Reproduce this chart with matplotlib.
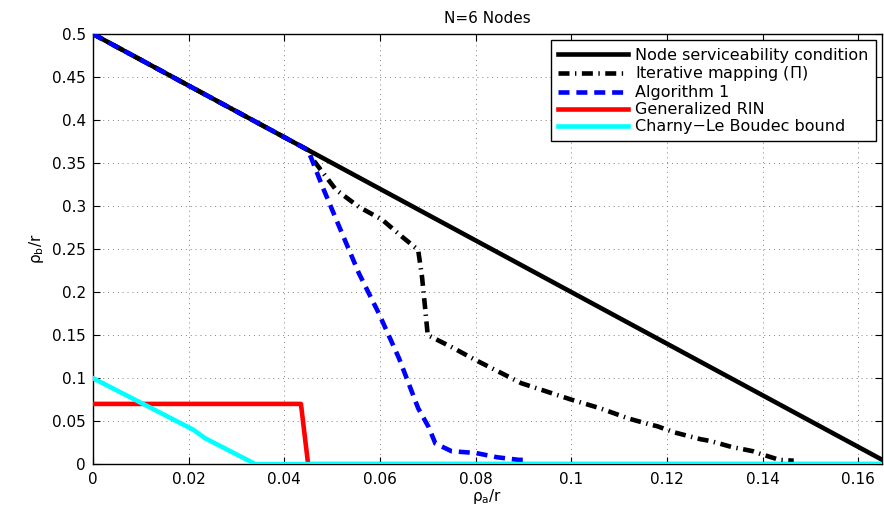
import matplotlib
matplotlib.use("Agg")
import matplotlib.pyplot as plt
import numpy as np

plt.rcParams["font.family"] = ["DejaVu Sans"]
plt.rcParams["mathtext.fontset"] = "dejavusans"

# node serviceability condition
node_x = [0.0, 0.165]
node_y = [0.5, 0.005]

# iterative mapping (Pi)
iter_x = [0.0, 0.045, 0.0456, 0.0508, 0.0556, 0.0605, 0.0647, 0.068, 0.0688, 0.0695,
          0.070, 0.075, 0.080, 0.0896, 0.100, 0.106, 0.112, 0.1165, 0.118, 0.1215,
          0.127, 0.129, 0.1335, 0.138, 0.1395, 0.1435, 0.1465]
iter_y = [0.5, 0.365, 0.357, 0.319, 0.299, 0.284, 0.264, 0.249, 0.218, 0.179,
          0.150, 0.136, 0.121, 0.094, 0.075, 0.065, 0.053, 0.046, 0.044, 0.037,
          0.029, 0.027, 0.020, 0.015, 0.012, 0.005, 0.004]

# algorithm 1
alg_x = [0.0, 0.045, 0.048, 0.0515, 0.0556, 0.0598, 0.064, 0.068, 0.0702, 0.0716,
         0.075, 0.080, 0.0845, 0.089, 0.090]
alg_y = [0.5, 0.365, 0.3225, 0.276, 0.222, 0.175, 0.123, 0.065, 0.043, 0.024,
         0.015, 0.013, 0.008, 0.005, 0.005]

# generalized RIN
rin_x = [0.0, 0.0435, 0.045, 0.165]
rin_y = [0.07, 0.07, 0.0, 0.0]

# Charny-Le Boudec bound
clb_x = [0.0, 0.021, 0.0235, 0.034, 0.165]
clb_y = [0.1, 0.04, 0.03, 0.0, 0.0]

xticks = np.arange(0, 0.161, 0.02)
xlabels = ["0", "0.02", "0.04", "0.06", "0.08", "0.1", "0.12", "0.14", "0.16"]
yticks = np.arange(0, 0.501, 0.05)
ylabels = ["0", "0.05", "0.1", "0.15", "0.2", "0.25", "0.3", "0.35", "0.4", "0.45", "0.5"]

fig = plt.figure(figsize=[8.84, 5.14], dpi=100)
ax = fig.add_axes([0.105, 0.097, 0.893, 0.837])

lw = 3.3
ax.plot(node_x, node_y, color="k", lw=lw, label="Node serviceability condition", zorder=3)
ax.plot(iter_x, iter_y, color="k", lw=lw, dashes=(2.4, 1.2, 0.3, 1.2),
        label=r"Iterative mapping ($\Pi$)", zorder=4)
ax.plot(alg_x, alg_y, color="#0000ff", lw=lw, dashes=(2.4, 1.5),
        label="Algorithm 1", zorder=5)
ax.plot(rin_x, rin_y, color="#ff0000", lw=lw, label="Generalized RIN", zorder=3)
ax.plot(clb_x, clb_y, color="#00ffff", lw=lw, label="Charny\u2212Le Boudec bound", zorder=6)

ax.set_xlim(0, 0.165)
ax.set_ylim(0, 0.5)
ax.set_xticks(xticks)
ax.set_xticklabels(xlabels)
ax.set_yticks(yticks)
ax.set_yticklabels(ylabels)
ax.tick_params(direction="in", top=True, right=True, labelsize=11, length=5, width=0.8)
ax.tick_params(axis="x", pad=6)
ax.tick_params(axis="y", pad=5)
ax.grid(True, linestyle=(0, (1, 4)), color="0.5", lw=0.7)

for s in ax.spines.values():
    s.set_linewidth(1.0)

ax.set_xlabel("\u03c1$_\\mathrm{a}$/r", fontsize=11, labelpad=0)
ax.set_ylabel("\u03c1$_\\mathrm{b}$/r", fontsize=11, labelpad=4)
ax.set_title("N=6 Nodes", fontsize=11, pad=8)

leg = ax.legend(loc="upper right", fontsize=11.5, fancybox=False, framealpha=1,
                edgecolor="k", handlelength=4.4, borderaxespad=0.4,
                labelspacing=0.12, borderpad=0.45, handletextpad=0.45)
leg.get_frame().set_linewidth(1.0)

fig.savefig("out.png", dpi=100)
